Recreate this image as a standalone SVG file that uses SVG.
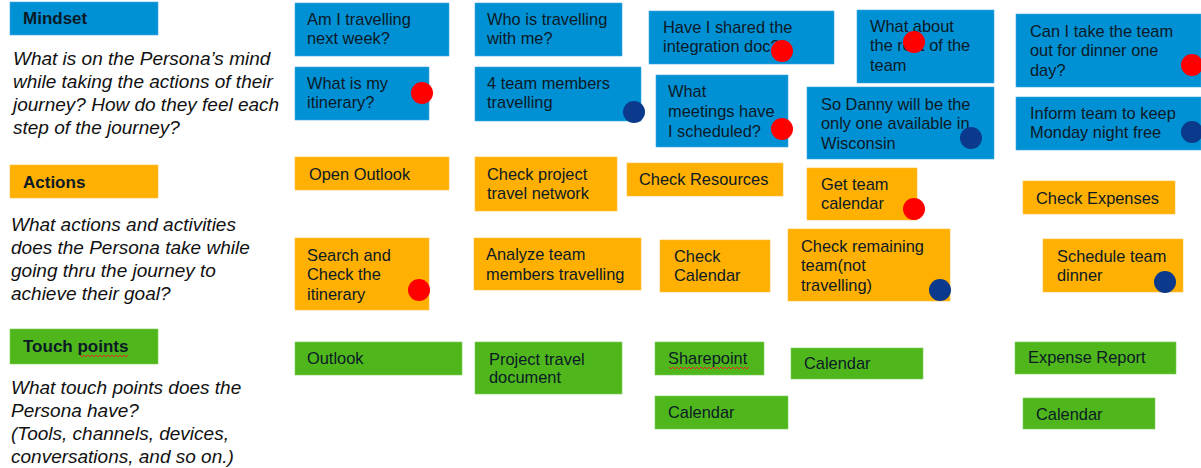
<svg xmlns="http://www.w3.org/2000/svg" width="1201" height="468" viewBox="0 0 1201 468">
<style>
text{font-family:"Liberation Sans",Arial,sans-serif;font-size:16.4px;fill:#0b1a26}
.b rect{fill:#0090d4;stroke:#3fa9e0;stroke-width:.6}
.o rect{fill:#ffb000;stroke:#ffc040;stroke-width:.6}
.g rect{fill:#4fb71c;stroke:#7ccb58;stroke-width:.6}
text.h{font-weight:700;font-size:17px}
text.q{font-style:italic;font-size:19px;fill:#111}
.r{fill:#ff0000}
.n{fill:#0b3a8c}
.w{fill:none;stroke:#d8342a;stroke-width:1}
</style>
<rect width="1201" height="468" fill="#fff"/>
<g id="legend">
<g id="mindset" class="b"><rect x="10" y="2" width="148" height="33"/><text class="h" x="23" y="24">Mindset</text></g>
<text class="q" x="13" y="65">What is on the Persona’s mind</text>
<text class="q" x="13" y="88">while taking the actions of their</text>
<text class="q" x="13" y="111">journey? How do they feel each</text>
<text class="q" x="13" y="134">step of the journey?</text>
<g id="actions" class="o"><rect x="10" y="165" width="148" height="33"/><text class="h" x="23" y="188">Actions</text></g>
<text class="q" x="11" y="231">What actions and activities</text>
<text class="q" x="11" y="254">does the Persona take while</text>
<text class="q" x="11" y="277">going thru the journey to</text>
<text class="q" x="11" y="300">achieve their goal?</text>
<g id="touchpoints" class="g"><rect x="10" y="329" width="148" height="35"/><text class="h" x="23" y="352">Touch points</text><path class="w" d="M80 355l2 2 2-2 2 2 2-2 2 2 2-2 2 2 2-2 2 2 2-2 2 2 2-2 2 2 2-2 2 2 2-2 2 2 2-2 2 2 2-2 2 2 2-2 2 2 2-2"/></g>
<text class="q" x="11" y="394">What touch points does the</text>
<text class="q" x="11" y="417">Persona have?</text>
<text class="q" x="11" y="440">(Tools, channels, devices,</text>
<text class="q" x="11" y="463">conversations, and so on.)</text>
</g>
<g id="n1" class="b"><rect x="295" y="3" width="154" height="53"/><text x="307" y="25">Am I travelling</text><text x="307" y="44">next week?</text></g>
<g id="n2" class="b"><rect x="295" y="67" width="134" height="53"/><text x="307" y="89">What is my</text><text x="307" y="108">itinerary?</text><circle class="r" cx="422" cy="93" r="11"/></g>
<g id="n3" class="b"><rect x="475" y="3" width="147" height="53"/><text x="487" y="25">Who is travelling</text><text x="487" y="44">with me?</text></g>
<g id="n4" class="b"><rect x="475" y="67" width="166" height="54"/><text x="487" y="89">4 team members</text><text x="487" y="108">travelling</text><circle class="n" cx="634" cy="112" r="11"/></g>
<g id="n5" class="b"><rect x="649" y="11" width="185" height="53"/><text x="663" y="33">Have I shared the</text><text x="663" y="52">integration doc?</text><circle class="r" cx="782" cy="51" r="11"/></g>
<g id="n6" class="b"><rect x="857" y="10" width="137" height="73"/><text x="870" y="32">What about</text><text x="870" y="51">the rest of the</text><text x="870" y="71">team</text><circle class="r" cx="914" cy="42" r="11"/></g>
<g id="n7" class="b"><rect x="1016" y="14" width="185" height="73"/><text x="1030" y="37">Can I take the team</text><text x="1030" y="56">out for dinner one</text><text x="1030" y="76">day?</text><circle class="r" cx="1192" cy="65" r="11"/></g>
<g id="n8" class="b"><rect x="656" y="75" width="132" height="72"/><text x="668" y="97">What</text><text x="668" y="117">meetings have</text><text x="668" y="137">I scheduled?</text><circle class="r" cx="782" cy="129" r="11"/></g>
<g id="n9" class="b"><rect x="807" y="87" width="187" height="72"/><text x="821" y="110">So Danny will be the</text><text x="821" y="129">only one available in</text><text x="821" y="149">Wisconsin</text><circle class="n" cx="971" cy="138" r="11"/></g>
<g id="n10" class="b"><rect x="1016" y="97" width="185" height="53"/><text x="1030" y="119">Inform team to keep</text><text x="1030" y="138">Monday night free</text><circle class="n" cx="1192" cy="132" r="11"/></g>
<g id="a1" class="o"><rect x="295" y="157" width="154" height="33"/><text x="309" y="180">Open Outlook</text></g>
<g id="a2" class="o"><rect x="475" y="157" width="142" height="54"/><text x="487" y="180">Check project</text><text x="487" y="199">travel network</text></g>
<g id="a3" class="o"><rect x="627" y="163" width="156" height="33"/><text x="639" y="185">Check Resources</text></g>
<g id="a4" class="o"><rect x="807" y="168" width="110" height="52"/><text x="821" y="190">Get team</text><text x="821" y="209">calendar</text><circle class="r" cx="914" cy="209" r="11"/></g>
<g id="a5" class="o"><rect x="1023" y="181" width="152" height="33"/><text x="1036" y="204">Check Expenses</text></g>
<g id="a6" class="o"><rect x="295" y="238" width="134" height="72"/><text x="307" y="261">Search and</text><text x="307" y="280">Check the</text><text x="307" y="300">itinerary</text><circle class="r" cx="419" cy="290" r="11"/></g>
<g id="a7" class="o"><rect x="474" y="238" width="167" height="52"/><text x="486" y="260">Analyze team</text><text x="486" y="280">members travelling</text></g>
<g id="a8" class="o"><rect x="660" y="240" width="110" height="52"/><text x="674" y="262">Check</text><text x="674" y="281">Calendar</text></g>
<g id="a9" class="o"><rect x="788" y="229" width="162" height="72"/><text x="801" y="252">Check remaining</text><text x="801" y="271">team(not</text><text x="801" y="291">travelling)</text><circle class="n" cx="940" cy="290" r="11"/></g>
<g id="a10" class="o"><rect x="1043" y="239" width="140" height="53"/><text x="1057" y="262">Schedule team</text><text x="1057" y="281">dinner</text><circle class="n" cx="1165" cy="282" r="11"/></g>
<g id="t1" class="g"><rect x="295" y="342" width="167" height="33"/><text x="307" y="364">Outlook</text></g>
<g id="t2" class="g"><rect x="475" y="342" width="147" height="52"/><text x="489" y="365">Project travel</text><text x="489" y="383">document</text></g>
<g id="t3" class="g"><rect x="655" y="342" width="109" height="33"/><text x="668" y="364">Sharepoint</text><path class="w" d="M669 367l2 2 2-2 2 2 2-2 2 2 2-2 2 2 2-2 2 2 2-2 2 2 2-2 2 2 2-2 2 2 2-2 2 2 2-2 2 2 2-2 2 2 2-2 2 2 2-2 2 2 2-2 2 2 2-2 2 2 2-2 2 2 2-2 2 2 2-2 2 2 2-2 2 2 2-2 2 2 2-2"/></g>
<g id="t4" class="g"><rect x="655" y="396" width="133" height="33"/><text x="668" y="418">Calendar</text></g>
<g id="t5" class="g"><rect x="791" y="348" width="132" height="31"/><text x="804" y="369">Calendar</text></g>
<g id="t6" class="g"><rect x="1015" y="342" width="161" height="32"/><text x="1028" y="363">Expense Report</text></g>
<g id="t7" class="g"><rect x="1023" y="398" width="132" height="31"/><text x="1036" y="420">Calendar</text></g>
<g id="connectors"/>
</svg>
